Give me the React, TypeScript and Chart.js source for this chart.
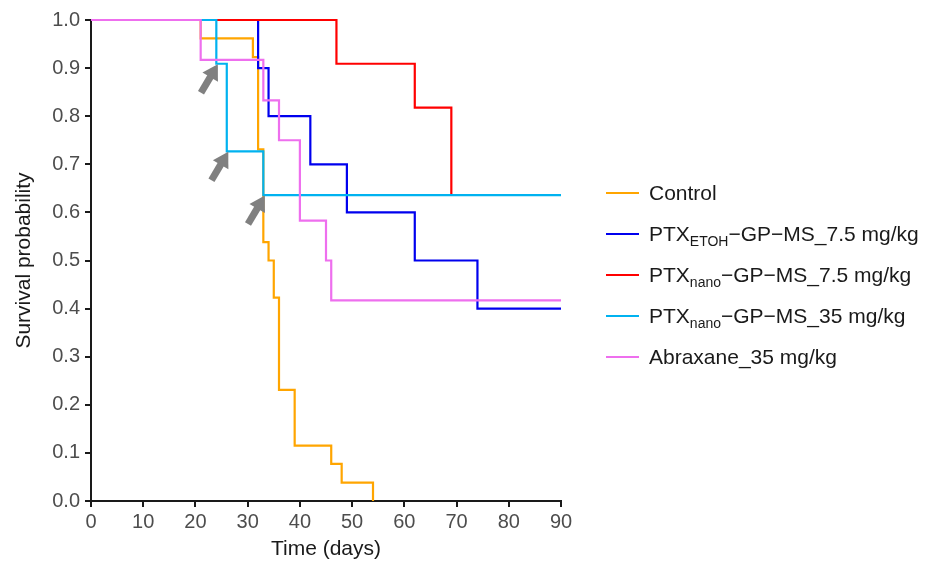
import React, { useEffect, useRef } from "react";
import { Chart, registerables } from "chart.js";

Chart.register(...registerables);

// ---- Data (Kaplan–Meier step points: day, survival after event) ----
const controlDays = [0, 21, 31, 32, 33, 34, 35, 36, 39, 46, 48, 54];
const controlSurv = [1, 0.962, 0.923, 0.731, 0.538, 0.5, 0.423, 0.231, 0.115, 0.077, 0.038, 0];

const etohDays = [0, 32, 34, 42, 49, 62, 74, 90];
const etohSurv = [1, 0.9, 0.8, 0.7, 0.6, 0.5, 0.4, 0.4];

const nano75Days = [0, 47, 62, 69];
const nano75Surv = [1, 0.909, 0.818, 0.636];

const nano35Days = [0, 24, 26, 33, 90];
const nano35Surv = [1, 0.909, 0.727, 0.636, 0.636];

const abraxaneDays = [0, 21, 33, 36, 40, 45, 46, 90];
const abraxaneSurv = [1, 0.917, 0.833, 0.75, 0.583, 0.5, 0.417, 0.417];

// Arrow annotations (treatment days on the PTXnano 35 mg/kg curve)
const arrowDays = [24, 26, 33];
const arrowSurv = [0.909, 0.727, 0.636];

const xTicks = [0, 10, 20, 30, 40, 50, 60, 70, 80, 90];
const yTicks = [0, 0.1, 0.2, 0.3, 0.4, 0.5, 0.6, 0.7, 0.8, 0.9, 1.0];

const seriesColors = ["#FFA500", "#0000EE", "#FF0000", "#00B2F0", "#EE6FEE"];

const FONT = "'Liberation Sans', Arial, Helvetica, sans-serif";

const toPoints = (d: number[], s: number[]) => d.map((x, i) => ({ x, y: s[i] }));

const arrowPlugin = {
  id: "arrows",
  afterDatasetsDraw(chart: any) {
    const { ctx, scales } = chart;
    const xs = scales.x;
    const ys = scales.y;
    ctx.save();
    ctx.fillStyle = "#808080";
    ctx.strokeStyle = "#808080";
    const ang = Math.atan2(-27, 16);
    const ux = Math.cos(ang);
    const uy = Math.sin(ang);
    const px = -uy;
    const py = ux;
    arrowDays.forEach((d, i) => {
      const tx = xs.getPixelForValue(d) + 1.5;
      const ty = ys.getPixelForValue(arrowSurv[i]) + 0.5;
      const len = 33;
      const headLen = 15;
      const headHalf = 9;
      const bx = tx - ux * headLen;
      const by = ty - uy * headLen;
      const sx = tx - ux * len;
      const sy = ty - uy * len;
      ctx.lineWidth = 7;
      ctx.lineCap = "butt";
      ctx.beginPath();
      ctx.moveTo(sx, sy);
      ctx.lineTo(bx + ux * 3, by + uy * 3);
      ctx.stroke();
      ctx.beginPath();
      ctx.moveTo(tx, ty);
      ctx.lineTo(bx + px * headHalf, by + py * headHalf);
      ctx.lineTo(bx - px * headHalf, by - py * headHalf);
      ctx.closePath();
      ctx.fill();
    });
    ctx.restore();
  },
};

const legendItems: { color: string; main: string; sub?: string; rest?: string }[] = [
  { color: seriesColors[0], main: "Control" },
  { color: seriesColors[1], main: "PTX", sub: "ETOH", rest: "−GP−MS_7.5 mg/kg" },
  { color: seriesColors[2], main: "PTX", sub: "nano", rest: "−GP−MS_7.5 mg/kg" },
  { color: seriesColors[3], main: "PTX", sub: "nano", rest: "−GP−MS_35 mg/kg" },
  { color: seriesColors[4], main: "Abraxane_35 mg/kg" },
];
const legendRowY = [193, 234, 275, 316, 357];

export default function App() {
  const ref = useRef<HTMLCanvasElement | null>(null);

  useEffect(() => {
    if (!ref.current) return;
    const mk = (label: string, d: number[], s: number[], color: string, order: number) => ({
      label,
      data: toPoints(d, s),
      borderColor: color,
      backgroundColor: color,
      borderWidth: 2.2,
      pointRadius: 0,
      stepped: "before" as const,
      fill: false,
      clip: false as const,
      order,
    });
    const chart = new Chart(ref.current, {
      type: "line",
      data: {
        datasets: [
          mk("Control", controlDays, controlSurv, seriesColors[0], 4),
          mk("PTX ETOH-GP-MS_7.5 mg/kg", etohDays, etohSurv, seriesColors[1], 3),
          mk("PTX nano-GP-MS_7.5 mg/kg", nano75Days, nano75Surv, seriesColors[2], 2),
          mk("PTX nano-GP-MS_35 mg/kg", nano35Days, nano35Surv, seriesColors[3], 1),
          mk("Abraxane_35 mg/kg", abraxaneDays, abraxaneSurv, seriesColors[4], 0),
        ],
      },
      options: {
        animation: false,
        responsive: false,
        maintainAspectRatio: false,
        layout: { padding: { left: 0, top: 20, right: 375, bottom: 0 } },
        plugins: {
          legend: { display: false },
          tooltip: { enabled: false },
        },
        scales: {
          x: {
            type: "linear",
            min: 0,
            max: 90,
            afterBuildTicks: (s: any) => {
              s.ticks = xTicks.map((v) => ({ value: v }));
            },
            afterFit: (s: any) => {
              s.height = 61;
            },
            ticks: {
              color: "#4d4d4d",
              font: { family: FONT, size: 20 },
              padding: 3,
              maxRotation: 0,
              autoSkip: false,
            },
            grid: {
              display: true,
              drawOnChartArea: false,
              drawTicks: true,
              tickLength: 6,
              color: "#1a1a1a",
              lineWidth: 2,
            },
            border: { display: true, color: "#1a1a1a", width: 2 },
            title: {
              display: true,
              text: "Time (days)",
              color: "#1a1a1a",
              font: { family: FONT, size: 21 },
              padding: { top: 0, bottom: 0 },
            },
          },
          y: {
            type: "linear",
            min: 0,
            max: 1,
            afterBuildTicks: (s: any) => {
              s.ticks = yTicks.map((v) => ({ value: v }));
            },
            afterFit: (s: any) => {
              s.width = 91;
            },
            ticks: {
              color: "#4d4d4d",
              font: { family: FONT, size: 20 },
              padding: 5,
              callback: (v: any) => Number(v).toFixed(1),
            },
            grid: {
              display: true,
              drawOnChartArea: false,
              drawTicks: true,
              tickLength: 6,
              color: "#1a1a1a",
              lineWidth: 2,
            },
            border: { display: true, color: "#1a1a1a", width: 2 },
            title: {
              display: true,
              text: "Survival probability",
              color: "#1a1a1a",
              font: { family: FONT, size: 21 },
              padding: { top: 12, bottom: 0 },
            },
          },
        },
      },
      plugins: [arrowPlugin],
    } as any);
    return () => chart.destroy();
  }, []);

  return (
    <div
      style={{
        position: "absolute",
        left: 0,
        top: 0,
        width: 936,
        height: 562,
        background: "#fff",
        overflow: "hidden",
      }}
    >
      <canvas ref={ref} width={936} height={562} style={{ width: 936, height: 562, display: "block" }} />
      {legendItems.map((it, i) => (
        <div
          key={i}
          style={{
            position: "absolute",
            left: 606,
            top: legendRowY[i] - 14,
            height: 28,
            display: "flex",
            alignItems: "center",
            fontFamily: FONT,
            fontSize: 21,
            color: "#1a1a1a",
            whiteSpace: "nowrap",
          }}
        >
          <span style={{ display: "inline-block", width: 33, height: 2.5, background: it.color, marginRight: 10 }} />
          <span>
            {it.main}
            {it.sub ? (
              <span style={{ fontSize: 14, position: "relative", top: 5 }}>{it.sub}</span>
            ) : null}
            {it.rest ?? ""}
          </span>
        </div>
      ))}
    </div>
  );
}
